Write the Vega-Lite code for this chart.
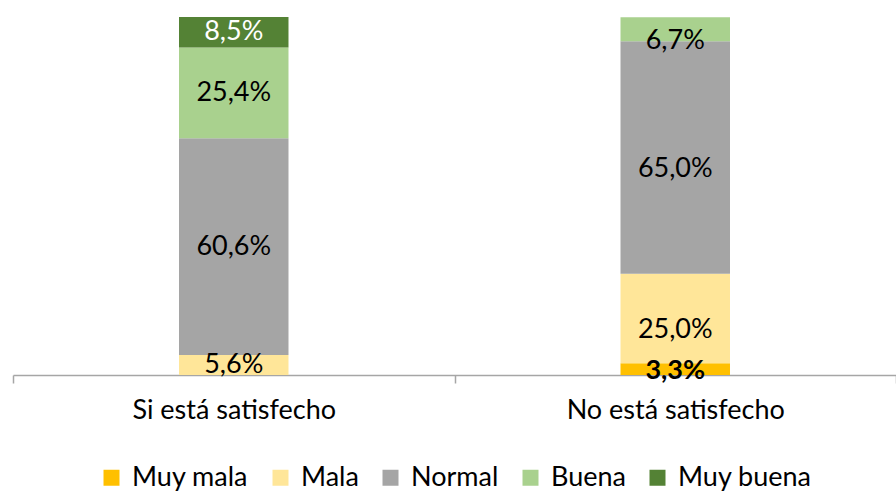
{
  "$schema": "https://vega.github.io/schema/vega-lite/v6.json",
  "width": 883,
  "height": 358,
  "autosize": {"type": "none"},
  "padding": {"left": 13, "top": 17, "right": 0, "bottom": 118},
  "background": "white",
  "config": {
    "view": {"stroke": null},
    "font": "Lato",
    "legend": {"layout": {"bottom": {"anchor": "middle"}}}
  },
  "data": {
    "values": [
      {"grupo": "Si está satisfecho", "valoracion": "Mala", "orden": 2, "valor": 5.6, "etiqueta": "5,6%"},
      {"grupo": "Si está satisfecho", "valoracion": "Normal", "orden": 3, "valor": 60.6, "etiqueta": "60,6%"},
      {"grupo": "Si está satisfecho", "valoracion": "Buena", "orden": 4, "valor": 25.4, "etiqueta": "25,4%"},
      {"grupo": "Si está satisfecho", "valoracion": "Muy buena", "orden": 5, "valor": 8.5, "etiqueta": "8,5%"},
      {"grupo": "No está satisfecho", "valoracion": "Muy mala", "orden": 1, "valor": 3.3, "etiqueta": "3,3%"},
      {"grupo": "No está satisfecho", "valoracion": "Mala", "orden": 2, "valor": 25.0, "etiqueta": "25,0%"},
      {"grupo": "No está satisfecho", "valoracion": "Normal", "orden": 3, "valor": 65.0, "etiqueta": "65,0%"},
      {"grupo": "No está satisfecho", "valoracion": "Buena", "orden": 4, "valor": 6.7, "etiqueta": "6,7%"}
    ]
  },
  "encoding": {
    "x": {
      "field": "grupo",
      "type": "nominal",
      "sort": ["Si está satisfecho", "No está satisfecho"],
      "scale": {"paddingInner": 0, "paddingOuter": 0},
      "axis": {
        "title": null,
        "labelAngle": 0,
        "labelFontSize": 27,
        "labelLimit": 0,
        "labelColor": "#000000",
        "labelPadding": 14,
        "domainColor": "#a6a6a6",
        "domainWidth": 1.5,
        "tickColor": "#a6a6a6",
        "tickWidth": 1.5,
        "tickSize": 8,
        "tickBand": "extent"
      }
    },
    "y": {
      "field": "valor",
      "type": "quantitative",
      "stack": "zero",
      "scale": {"domain": [0, 100.1], "nice": false},
      "axis": null
    },
    "order": {"field": "orden", "type": "quantitative"}
  },
  "layer": [
    {
      "mark": {"type": "bar", "width": {"band": 0.248}},
      "encoding": {
        "color": {
          "field": "valoracion",
          "type": "nominal",
          "scale": {
            "domain": ["Muy mala", "Mala", "Normal", "Buena", "Muy buena"],
            "range": ["#FFC000", "#FFE699", "#A5A5A5", "#A9D18E", "#548235"]
          },
          "legend": {
            "title": null,
            "orient": "bottom",
            "direction": "horizontal",
            "symbolType": "square",
            "symbolSize": 256,
            "symbolStrokeWidth": 0,
            "labelFontSize": 27,
            "labelLimit": 0,
            "labelColor": "#000000",
            "labelOffset": 7,
            "columnPadding": 18,
            "offset": 41
          }
        }
      }
    },
    {
      "transform": [{"filter": "datum.valoracion !== 'Muy mala'"}],
      "mark": {"type": "text", "fontSize": 27, "baseline": "middle"},
      "encoding": {
        "y": {"field": "valor", "type": "quantitative", "stack": "zero", "bandPosition": 0.5},
        "text": {"field": "etiqueta"},
        "color": {
          "condition": {"test": "datum.valoracion === 'Muy buena'", "value": "#ffffff"},
          "value": "#000000"
        }
      }
    },
    {
      "transform": [{"filter": "datum.valoracion === 'Muy mala'"}],
      "mark": {"type": "text", "fontSize": 27, "fontWeight": "bold", "baseline": "middle", "color": "#000000", "dy": 2},
      "encoding": {
        "y": {"field": "valor", "type": "quantitative", "stack": "zero", "bandPosition": 0.5},
        "text": {"field": "etiqueta"}
      }
    }
  ]
}
